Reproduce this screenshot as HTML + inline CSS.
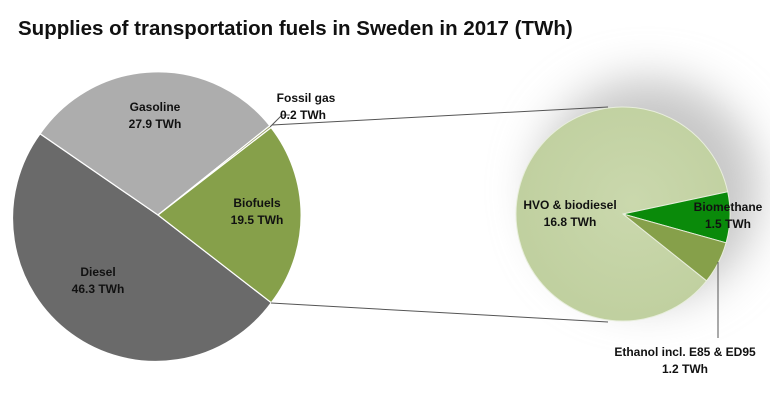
<!DOCTYPE html>
<html><head><meta charset="utf-8"><style>
body{margin:0;background:#fff;}
svg text{font-family:"Liberation Sans",sans-serif;font-weight:bold;fill:#111;}
</style></head><body>
<svg width="770" height="400" viewBox="0 0 770 400">
<defs>
<filter id="b" x="-50%" y="-50%" width="200%" height="200%"><feGaussianBlur stdDeviation="22"/></filter>
<radialGradient id="g" cx="0.55" cy="0.45" r="0.6"><stop offset="0" stop-color="#cad8ad"/><stop offset="1" stop-color="#bfcf9e"/></radialGradient>
</defs>
<text x="18" y="35" font-size="20.5" style="font-weight:bold">Supplies of transportation fuels in Sweden in 2017 (TWh)</text>
<circle cx="648" cy="190" r="112" fill="#c8c8c8" filter="url(#b)"/>
<g stroke="#fff" stroke-width="1.2">
<path d="M158,215 L271.3,302.7 A143,143 0 1 1 40.1,133.8 Z" fill="#6a6a6a"/>
<path d="M158,215 L40.1,133.8 A143,143 0 0 1 269.8,125.7 Z" fill="#adadad"/>
<path d="M158,215 L269.8,125.7 A143,143 0 0 1 271.1,127.6 Z" fill="#9aa06a"/>
<path d="M158,215 L271.1,127.6 A143,143 0 0 1 271.3,302.7 Z" fill="#86a04a"/>
</g>
<g stroke="#e8eedc" stroke-width="1">
<path d="M623,214 L706.6,280.8 A107,107 0 1 1 727.7,191.8 Z" fill="url(#g)"/>
<path d="M623,214 L727.7,191.8 A107,107 0 0 1 726.1,242.8 Z" fill="#0a8a0a"/>
<path d="M623,214 L726.1,242.8 A107,107 0 0 1 706.6,280.8 Z" fill="#86a04a"/>
</g>
<g stroke="#555" stroke-width="1" fill="none">
<line x1="272" y1="125" x2="608" y2="107"/>
<line x1="271" y1="303" x2="608" y2="322"/>
<polyline points="270,127 282,115 290,115"/>
<line x1="718" y1="262" x2="718" y2="338"/>
</g>
<g font-size="12" text-anchor="middle">
<text x="155" y="111">Gasoline</text><text x="155" y="128">27.9 TWh</text>
<text x="257" y="207">Biofuels</text><text x="257" y="224">19.5 TWh</text>
<text x="98" y="276">Diesel</text><text x="98" y="293">46.3 TWh</text>
<text x="570" y="209">HVO &amp; biodiesel</text><text x="570" y="226">16.8 TWh</text>
<text x="728" y="211">Biomethane</text><text x="728" y="228">1.5 TWh</text>
<text x="306" y="102">Fossil gas</text><text x="303" y="119">0.2 TWh</text>
<text x="685" y="356">Ethanol incl. E85 &amp; ED95</text><text x="685" y="373">1.2 TWh</text>
</g>
</svg>
</body></html>
